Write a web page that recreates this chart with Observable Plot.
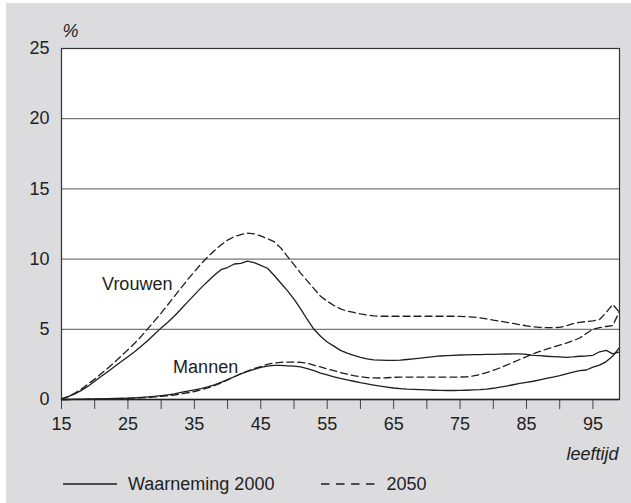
<!DOCTYPE html>
<html>
<head>
<meta charset="utf-8">
<script src="https://cdn.jsdelivr.net/npm/d3@7"></script>
<script src="https://cdn.jsdelivr.net/npm/@observablehq/plot@0.6"></script>
<style>
  html, body { margin: 0; padding: 0; background: #ffffff; }
  #panel { position: absolute; left: 6px; top: 3px; width: 625px; height: 500px; background: #dcdcde;
           font-family: "Liberation Sans", Arial, Helvetica, sans-serif; color: #222; }
  #legend { position: absolute; left: 57px; top: 467px; height: 28px; display: flex; align-items: center; font-size: 18px; }
  #legend .item { display: flex; align-items: center; }
  #legend svg { display: block; }
</style>
</head>
<body>
<div id="panel">
  <div id="chart"></div>
  <div id="legend"></div>
</div>
<script>
// ---- data ----
const ages = d3.range(15, 100); // 15..99 (leeftijd)
const vrouwen2000 = [
  0.05,0.2,0.4,0.65,0.95,1.3,1.65,2.0,2.35,2.7,
  3.05,3.4,3.8,4.2,4.65,5.1,5.5,5.95,6.45,6.95,
  7.45,7.95,8.4,8.85,9.25,9.4,9.65,9.7,9.85,9.75,
  9.55,9.35,8.85,8.3,7.75,7.15,6.45,5.7,5.0,4.5,
  4.1,3.8,3.5,3.3,3.15,3.0,2.9,2.82,2.8,2.78,
  2.78,2.8,2.85,2.9,2.95,3.0,3.05,3.1,3.12,3.15,
  3.17,3.18,3.2,3.2,3.22,3.22,3.23,3.24,3.25,3.25,
  3.22,3.15,3.12,3.08,3.05,3.03,3.0,3.03,3.08,3.1,
  3.15,3.4,3.5,3.25,3.4
];
const vrouwen2050 = [
  0.05,0.2,0.45,0.75,1.1,1.45,1.85,2.25,2.65,3.1,
  3.55,4.0,4.5,5.05,5.6,6.15,6.75,7.35,7.95,8.55,
  9.1,9.65,10.15,10.6,11.0,11.35,11.6,11.75,11.85,11.8,
  11.65,11.45,11.25,10.8,10.2,9.6,9.0,8.45,7.9,7.35,
  7.0,6.7,6.45,6.3,6.2,6.1,6.02,5.96,5.93,5.93,
  5.93,5.93,5.93,5.93,5.93,5.93,5.93,5.93,5.93,5.93,
  5.92,5.9,5.87,5.82,5.75,5.65,5.58,5.5,5.42,5.33,
  5.25,5.18,5.13,5.12,5.12,5.14,5.25,5.4,5.5,5.55,
  5.6,5.7,6.2,6.77,6.2
];
const mannen2000 = [
  0,0,0.01,0.02,0.03,0.04,0.05,0.06,0.07,0.08,
  0.1,0.12,0.15,0.18,0.22,0.27,0.33,0.4,0.5,0.6,
  0.68,0.78,0.9,1.05,1.22,1.42,1.62,1.82,2.0,2.15,
  2.28,2.38,2.43,2.43,2.4,2.38,2.33,2.2,2.05,1.88,
  1.75,1.62,1.5,1.4,1.3,1.2,1.12,1.03,0.95,0.88,
  0.82,0.78,0.74,0.72,0.7,0.68,0.66,0.65,0.64,0.64,
  0.65,0.66,0.68,0.7,0.74,0.8,0.88,0.96,1.05,1.15,
  1.22,1.3,1.4,1.5,1.6,1.7,1.82,1.95,2.05,2.1,
  2.3,2.45,2.7,3.1,3.7
];
const mannen2050 = [
  0,0,0.01,0.01,0.02,0.03,0.04,0.05,0.06,0.07,
  0.08,0.1,0.12,0.15,0.18,0.22,0.27,0.32,0.4,0.48,
  0.57,0.68,0.82,0.98,1.18,1.4,1.62,1.84,2.02,2.2,
  2.35,2.5,2.6,2.65,2.66,2.66,2.65,2.58,2.45,2.32,
  2.18,2.05,1.92,1.8,1.7,1.62,1.56,1.54,1.53,1.55,
  1.58,1.6,1.6,1.6,1.6,1.6,1.6,1.6,1.6,1.6,
  1.6,1.62,1.68,1.78,1.92,2.08,2.25,2.45,2.65,2.85,
  3.05,3.25,3.42,3.58,3.72,3.88,4.02,4.18,4.38,4.7,
  5.0,5.12,5.2,5.27,6.3
];
const xTicks = [15,20,25,30,35,40,45,50,55,60,65,70,75,80,85,90,95];
const xTickLabels = [15,25,35,45,55,65,75,85,95];
const yTicks = [0,5,10,15,20,25];
const gridValues = [5,10,15,20];
const seriesLabels = ["Vrouwen", "Mannen"];
const seriesLabelAge = [26.4, 36.7];
const seriesLabelValue = [8.23, 2.31];
const legendLabels = ["Waarneming 2000", "2050"];
const yUnit = "%";
const xTitle = "leeftijd";

// ---- build ----
const toRows = vals => ages.map((a, i) => ({age: a, v: vals[i]}));
const ink = "#1e1e1e";
const dash = "7,4";
const labelRows = seriesLabels.map((t, i) => ({t, age: seriesLabelAge[i], v: seriesLabelValue[i]}));

const chart = Plot.plot({
  width: 625,
  height: 465,
  marginLeft: 55,
  marginRight: 12,
  marginTop: 45,
  marginBottom: 69,
  style: {background: "transparent", fontFamily: "'Liberation Sans', Arial, Helvetica, sans-serif", fontSize: "18px", color: "#222", overflow: "visible"},
  x: {domain: [15, 99]},
  y: {domain: [0, 25]},
  marks: [
    Plot.frame({fill: "white", stroke: "none"}),
    Plot.ruleY(gridValues, {stroke: "#555", strokeWidth: 1}),
    Plot.axisY(yTicks, {tickSize: 0, tickPadding: 12, label: null, fontSize: 18}),
    Plot.axisX(xTicks, {tickSize: 10, tickPadding: 8, label: null, fontSize: 18, stroke: "#444",
      tickFormat: d => xTickLabels.includes(d) ? String(d) : ""}),
    Plot.line(toRows(vrouwen2050), {x: "age", y: "v", stroke: ink, strokeWidth: 1.3, strokeDasharray: dash}),
    Plot.line(toRows(mannen2050), {x: "age", y: "v", stroke: ink, strokeWidth: 1.3, strokeDasharray: dash}),
    Plot.line(toRows(vrouwen2000), {x: "age", y: "v", stroke: ink, strokeWidth: 1.3}),
    Plot.line(toRows(mannen2000), {x: "age", y: "v", stroke: ink, strokeWidth: 1.3}),
    Plot.text(labelRows, {x: "age", y: "v", text: "t", fontSize: 18, fill: "#222"}),
    Plot.frame({stroke: "#333", strokeWidth: 1.2}),
    Plot.ruleY([0], {stroke: "#222", strokeWidth: 1.5}),
    Plot.text([yUnit], {frameAnchor: "top-left", textAnchor: "start", dy: -24, dx: 1, fontStyle: "italic", fontSize: 18, fill: "#222"}),
    Plot.text([xTitle], {frameAnchor: "bottom-right", textAnchor: "end", dy: 60, dx: -1, fontStyle: "italic", fontSize: 18, fill: "#222"})
  ]
});
document.getElementById("chart").appendChild(chart);

// ---- legend ----
const legend = d3.select("#legend");
const specs = [{label: legendLabels[0], dash: null, gapAfter: 47}, {label: legendLabels[1], dash: "8.5,6.5", gapAfter: 0}];
specs.forEach(s => {
  const item = legend.append("div").attr("class", "item").style("margin-right", s.gapAfter + "px");
  const svg = item.append("svg").attr("width", 54).attr("height", 10).style("margin-right", "11px");
  svg.append("line").attr("x1", 0).attr("x2", 54).attr("y1", 5).attr("y2", 5)
    .attr("stroke", ink).attr("stroke-width", 1.5).attr("stroke-dasharray", s.dash);
  item.append("span").text(s.label);
});
</script>
</body>
</html>
